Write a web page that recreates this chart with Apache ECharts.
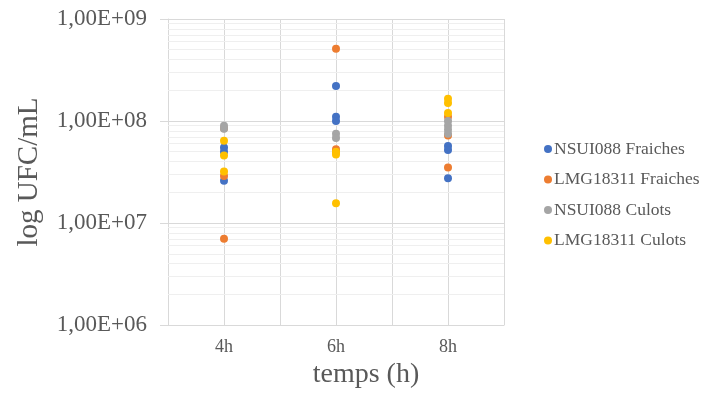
<!DOCTYPE html>
<html><head><meta charset="utf-8">
<script src="https://cdn.jsdelivr.net/npm/echarts@6/dist/echarts.min.js"></script>
<style>html,body{margin:0;padding:0;background:#fff}#c{width:702px;height:394px}</style>
</head><body><div id="c"></div>
<script>
// ---- data ----
const categories = ['4h', '6h', '8h'];
const seriesNames = ['NSUI088 Fraiches', 'LMG18311 Fraiches', 'NSUI088 Culots', 'LMG18311 Culots'];
const nsuiFraiches = [['4h', 5.5e7], ['4h', 5.0e7], ['4h', 2.6e7], ['6h', 2.2e8], ['6h', 1.1e8], ['6h', 1.0e8], ['8h', 5.7e7], ['8h', 5.2e7], ['8h', 2.75e7]];
const lmgFraiches = [['4h', 8.5e7], ['4h', 2.9e7], ['4h', 7.0e6], ['6h', 5.1e8], ['6h', 5.3e7], ['6h', 5.0e7], ['8h', 1.1e8], ['8h', 7.2e7], ['8h', 3.5e7]];
const nsuiCulots = [['4h', 9.0e7], ['4h', 8.4e7], ['6h', 7.5e7], ['6h', 6.8e7], ['8h', 1.0e8], ['8h', 9.0e7], ['8h', 8.2e7], ['8h', 7.5e7]];
const lmgCulots = [['4h', 6.4e7], ['4h', 4.6e7], ['4h', 3.2e7], ['6h', 5.0e7], ['6h', 4.7e7], ['6h', 1.56e7], ['8h', 1.65e8], ['8h', 1.5e8], ['8h', 1.2e8]];
const yTickLabels = { 6: '1,00E+06', 7: '1,00E+07', 8: '1,00E+08', 9: '1,00E+09' };
const colors = ['#4472C4', '#ED7D31', '#A5A5A5', '#FFC000'];

// ---- chart ----
const serif = '"Liberation Serif", "Times New Roman", serif';
const minorLines = [];
for (let e = 6; e < 9; e++) for (let m = 2; m <= 9; m++) minorLines.push({ yAxis: m * Math.pow(10, e) });

const chart = echarts.init(document.getElementById('c'), null, { renderer: 'canvas' });
const dataSets = [nsuiFraiches, lmgFraiches, nsuiCulots, lmgCulots];
const series = [{
  type: 'scatter', data: [], z: 1, silent: true,
  markLine: { silent: true, z: 1, symbol: 'none', label: { show: false },
    lineStyle: { color: '#efefef', width: 1, type: 'solid' }, data: minorLines, animation: false }
}];
dataSets.forEach((d, i) => series.push({
  name: seriesNames[i], type: 'scatter', data: d, symbol: 'circle', symbolSize: 8,
  itemStyle: { color: colors[i], opacity: 1 }, z: 3
}));

chart.setOption({
  animation: false,
  backgroundColor: '#fff',
  color: colors,
  grid: { left: 168, top: 19, width: 336, height: 315, containLabel: false },
  legend: {
    data: seriesNames, orient: 'vertical', left: 539, top: 135,
    icon: 'circle', itemWidth: 8, itemHeight: 8, itemGap: 12.5,
    textStyle: { fontFamily: serif, fontSize: 17.5, color: '#595959', padding: [0, 0, 0, -3] }
  },
  xAxis: [{
    type: 'category', data: categories, boundaryGap: true,
    name: 'temps (h)', nameLocation: 'middle', nameGap: 29,
    nameTextStyle: { fontFamily: serif, fontSize: 28, color: '#595959', padding: [0, 0, 0, 60] },
    axisLine: { show: true, lineStyle: { color: '#d9d9d9' } },
    axisTick: { show: false },
    axisLabel: { fontFamily: serif, fontSize: 18, color: '#595959', margin: 13 },
    splitLine: { show: false }
  }, {
    type: 'category', data: ['', '', '', '', '', ''], boundaryGap: true, position: 'bottom',
    axisLine: { show: false }, axisTick: { show: false }, axisLabel: { show: false },
    splitLine: { show: true, lineStyle: { color: '#d9d9d9', width: 1 } }
  }],
  yAxis: {
    type: 'log', logBase: 10, min: 1e6, max: 1e9,
    name: 'log UFC/mL', nameLocation: 'middle', nameGap: 124,
    nameTextStyle: { fontFamily: serif, fontSize: 29, color: '#595959' },
    axisLine: { show: true, lineStyle: { color: '#d9d9d9' } },
    axisTick: { show: true, length: 8, lineStyle: { color: '#d9d9d9' } },
    axisLabel: { fontFamily: serif, fontSize: 23, color: '#595959', margin: 21,
      formatter: v => yTickLabels[Math.round(Math.log10(v))] || '' },
    splitLine: { show: true, lineStyle: { color: '#d9d9d9', width: 1 } }
  },
  series: series
});
</script></body></html>
